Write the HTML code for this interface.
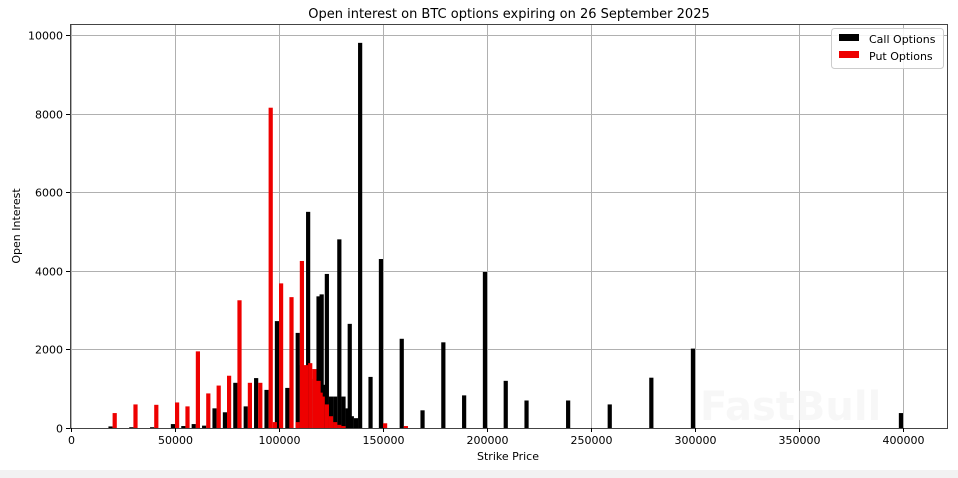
<!DOCTYPE html>
<html><head><meta charset="utf-8"><style>
html,body{margin:0;padding:0;background:#fff;width:958px;height:478px;overflow:hidden}
text{font-family:"DejaVu Sans","Liberation Sans",sans-serif}
</style></head><body>
<svg id="s" width="958" height="478" xmlns="http://www.w3.org/2000/svg">
<rect x="0" y="470" width="958" height="8" fill="#f2f2f2"/>
<g id="grid" stroke="#b0b0b0" stroke-width="1"></g>
<g id="bars"></g>
<rect x="70.5" y="24.5" width="877" height="404" fill="none" stroke="#444" stroke-width="1"/>
<g id="ticks" font-size="11" fill="#000"></g>
<text x="509" y="18" font-size="13" text-anchor="middle">Open interest on BTC options expiring on 26 September 2025</text>
<text x="508" y="460" font-size="11" text-anchor="middle">Strike Price</text>
<text x="20" y="226" font-size="11" text-anchor="middle" transform="rotate(-90 20 226)">Open Interest</text>
<g>
<rect x="831.5" y="28.5" width="112" height="40" rx="3" fill="#fff" fill-opacity="0.85" stroke="#ccc"/>
<rect x="839" y="34" width="20" height="7" fill="#000"/>
<text x="869" y="43" font-size="11">Call Options</text>
<rect x="839" y="51" width="20" height="7" fill="#e00"/>
<text x="869" y="60" font-size="11">Put Options</text>
</g>
<text x="700" y="420" font-size="40" font-weight="bold" fill="#f3f3f3" opacity="0.6">FastBull</text>
</svg>
<script>
const X=v=>71+v*0.00208, Y=v=>428-v*0.0393;
const ns="http://www.w3.org/2000/svg";
function el(p,t,a,txt){const e=document.createElementNS(ns,t);for(const k in a)e.setAttribute(k,a[k]);if(txt)e.textContent=txt;document.getElementById(p).appendChild(e);}
for(let v=0;v<=400000;v+=50000){const x=Math.round(X(v))+0.5;el('grid','line',{x1:x,x2:x,y1:24,y2:428});el('ticks','line',{x1:x,x2:x,y1:428,y2:432,stroke:'#000'});el('ticks','text',{x:x,y:444,'text-anchor':'middle'},String(v));}
for(let v=0;v<=10000;v+=2000){const y=Math.round(Y(v))+0.5;el('grid','line',{x1:70,x2:947,y1:y,y2:y});el('ticks','line',{x1:66,x2:70,y1:y,y2:y,stroke:'#000'});el('ticks','text',{x:63,y:y+4,'text-anchor':'end'},String(v));}
const calls=[[20000,40],[30000,20],[40000,20],[50000,100],[55000,50],[60000,100],[65000,60],[70000,500],[75000,400],[80000,1150],[85000,550],[90000,1270],[95000,970],[100000,2720],[105000,1020],[110000,2420],[112000,1600],[115000,5500],[118000,1250],[120000,3350],[121500,3400],[123000,1100],[124000,3920],[126000,800],[128000,800],[130000,4800],[132000,800],[134000,500],[135000,2650],[136000,300],[138000,250],[140000,9800],[145000,1300],[150000,4300],[160000,2270],[170000,450],[180000,2180],[190000,830],[200000,3970],[210000,1200],[220000,700],[240000,700],[260000,600],[280000,1280],[300000,2020],[400000,380]];
const puts=[[20000,380],[30000,600],[40000,590],[50000,650],[55000,550],[60000,1950],[65000,880],[70000,1080],[75000,1330],[80000,3250],[85000,1150],[90000,1150],[95000,8150],[97000,150],[100000,3680],[105000,3330],[108000,150],[110000,4250],[111000,1500],[112000,1600],[114000,1650],[116000,1500],[117000,1100],[118000,1200],[119000,900],[120000,800],[122000,600],[124000,300],[126000,150],[128000,80],[130000,50],[150000,120],[160000,50]];
calls.forEach(([s,v])=>el('bars','rect',{x:X(s-2000),y:Y(v),width:4.2,height:428-Y(v),fill:'#000'}));
puts.forEach(([s,v])=>el('bars','rect',{x:X(s),y:Y(v),width:4.2,height:428-Y(v),fill:'#e00'}));
</script>
</body></html>
